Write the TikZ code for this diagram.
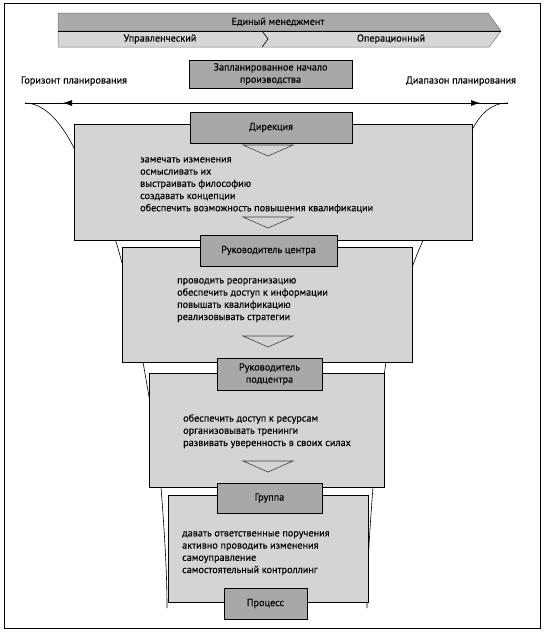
\documentclass[tikz,border=0pt]{standalone}
\usepackage{fontspec}
\setmainfont{PT Sans}[FakeBold=0.35]
\usepackage {tikz}
\usetikzlibrary{positioning,arrows.meta,decorations.markings}
\definecolor{areagray}{RGB}{212,212,212}
\definecolor{headgray}{RGB}{168,168,168}
\definecolor{bardark}{RGB}{170,170,170}
\definecolor{barlight}{RGB}{214,214,214}

\begin{document}
\begin{tikzpicture}[x=1pt, y=-1pt,
    txt/.style={font=\fontsize{10.2}{12.2}\selectfont, inner sep=0pt},
    areabox/.style={draw=black, fill=areagray, line width=0.7pt, inner sep=0pt},
    headbox/.style={txt, draw=black, fill=headgray, line width=0.7pt, align=center},
    tasks/.style={txt, align=left, anchor=north west, execute at begin node=\strut},
    downtri/.style={draw=black!75, fill=areagray, line width=0.6pt},
    funnel/.style={draw=black, line width=0.6pt},
    barshape/.style={draw=black!55, line width=0.5pt},
    horizon/.style={draw=black, line width=0.6pt, postaction={decorate},
      decoration={markings,
        mark=at position 38pt with {\arrowreversed{Latex[length=9pt,width=6pt]}},
        mark=at position 455pt with {\arrow{Latex[length=9pt,width=6pt]}}}},]
    \useasboundingbox (0,0) rectangle (545,632);
    \draw[line width=1pt] (4,3) rectangle (540,628);

    %Top bars
    \path[barshape, fill=bardark] (58,13) -- (488,13) -- (501,31) -- (58,31) -- cycle;
    \path[barshape, fill=barlight] (58,31) -- (501,31) -- (489,47) -- (58,47) -- cycle;
    \draw[line width=0.6pt] (58,31) -- (501,31);
    \draw[line width=0.6pt] (262,31) -- (268,39) -- (262,47);
    \node[txt] (mgmt) at (278,22) {Единый менеджмент};
    \node[txt] (upr) at (160,39) {Управленческий};
    \node[txt] (oper) at (391,39) {Операционный};

    %Planning
    \node[txt] (horiz) at (74,81) {Горизонт планирования};
    \node[txt] (range) at (461,81) {Диапазон планирования};
    \node[headbox, minimum width=163, minimum height=28] (plan) at (270.5,74)
      {Запланированное начало\\производства};
    \coordinate (hl) at (25,103);
    \coordinate (hr) at (508,103);
    \draw[horizon] (hl) -- (hr);

    % %Funnel
    \draw[funnel] (hl) .. controls (47,103) and (64,128) .. (74,148)
      .. controls (89,178) and (108,215) .. (117,245)
      .. controls (126,275) and (136,322) .. (143,362)
      .. controls (150,402) and (158,447) .. (161,487)
      .. controls (164,527) and (167,568) .. (167,608);
    \draw[funnel] (hr) .. controls (490,103) and (480,115) .. (472,130)
      .. controls (456,160) and (432,220) .. (421,245)
      .. controls (410,270) and (392,322) .. (386,362)
      .. controls (380,402) and (376,447) .. (373,487)
      .. controls (370,527) and (367,568) .. (367,608);

    %Nodes
    \node[areabox, minimum width=398, minimum height=116] (area1) at (273,182) {};
    \node[areabox, minimum width=290, minimum height=115] (area2) at (267,304.5) {};
    \node[areabox, minimum width=235, minimum height=114] (area3) at (266.5,430) {};
    \node[areabox, minimum width=200, minimum height=107] (area4) at (268,548.5) {};

    \node[headbox, minimum width=162, minimum height=31] (dir) at (271,127.5) {Дирекция};
    \node[headbox, minimum width=137, minimum height=31] (center) at (268.5,250.5) {Руководитель центра};
    \node[headbox, minimum width=105, minimum height=32] (subcenter) at (269.5,374)
      {Руководитель\\подцентра};
    \node[headbox, minimum width=105, minimum height=30] (group) at (269.5,498) {Группа};
    \node[headbox, minimum width=83, minimum height=31] (process) at (265.5,603.5) {Процесс};

    \foreach \ty in {145,217,336,461}
      \draw[downtri] (243,\ty) -- (293,\ty) -- (268,\ty+11) -- cycle;

    \node[tasks] (dirtasks) at (140,157) {замечать изменения\\осмысливать их\\выстраивать философию\\создавать концепции\\обеспечить возможность повышения квалификации};
    \node[tasks] (centertasks) at (177,278) {проводить реорганизацию\\обеспечить доступ к информации\\повышать квалификацию\\реализовывать стратегии};
    \node[tasks] (subtasks) at (183,414) {обеспечить доступ к ресурсам\\организовывать тренинги\\развивать уверенность в своих силах};
    \node[tasks] (grouptasks) at (182,531) {давать ответственные поручения\\активно проводить изменения\\самоуправление\\самостоятельный контроллинг};
  \end{tikzpicture}
\end{document}
